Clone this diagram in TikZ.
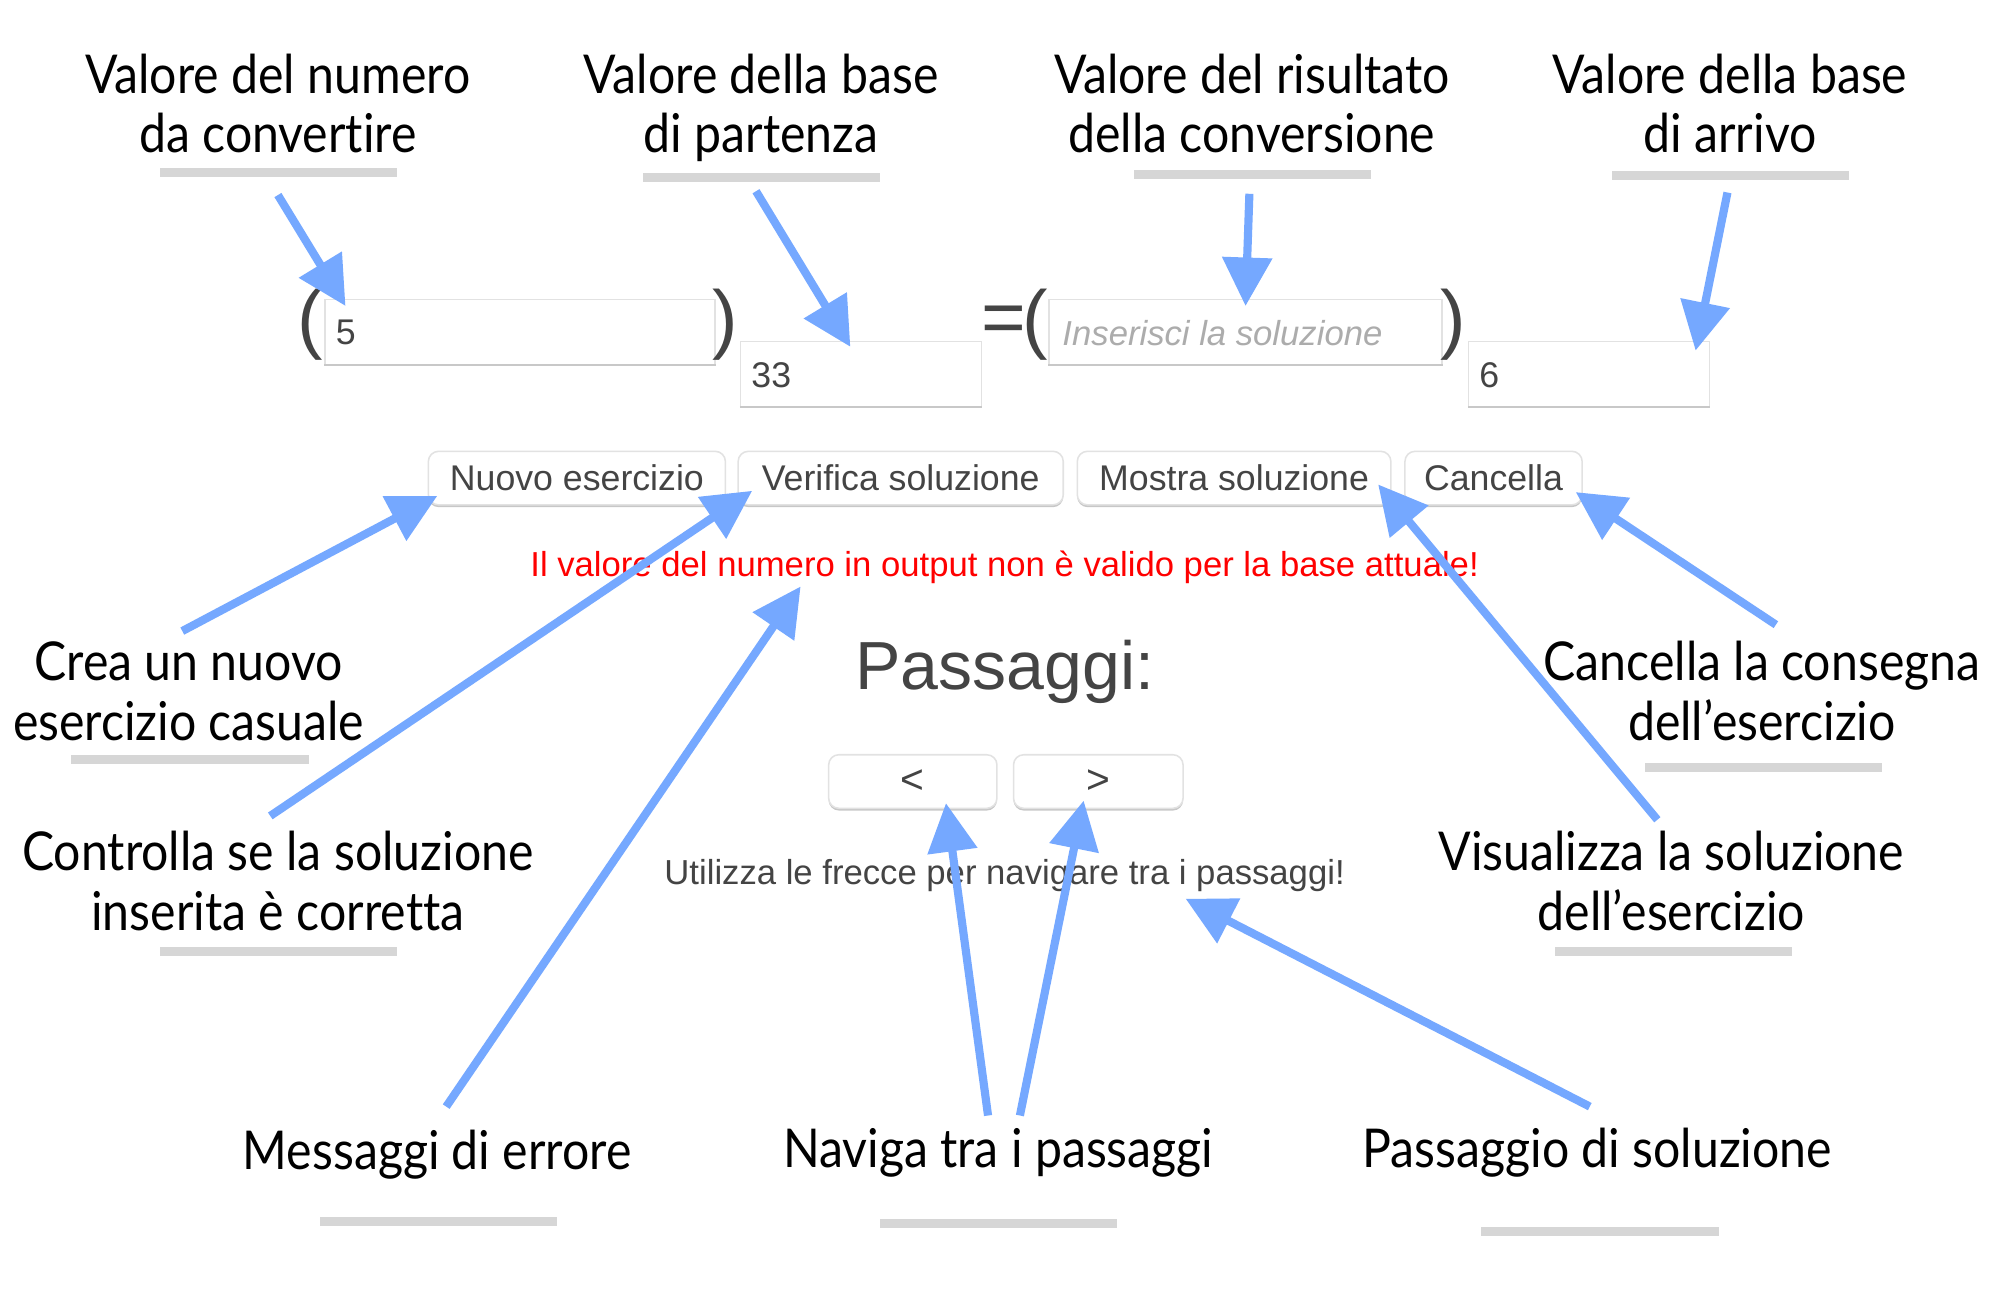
\documentclass[tikz,border=0pt]{standalone}
\usepackage{fontspec}
\setmainfont{Liberation Sans}
\newfontfamily\labfont[FakeStretch=0.9, Ligatures=NoCommon]{Lato}
\usetikzlibrary{arrows.meta,shadows}
\definecolor{arrowblue}{RGB}{117,168,255}
\definecolor{barGray}{RGB}{214,214,214}
\definecolor{uitext}{RGB}{68,68,68}
\definecolor{errred}{RGB}{255,0,0}
\definecolor{phgray}{RGB}{172,172,172}
\definecolor{boxline}{RGB}{226,226,226}
\definecolor{boxbottom}{RGB}{200,200,200}
\tikzset{
  lab/.style={font=\labfont\fontsize{21}{23.5}\selectfont, align=center, text=black, inner sep=0, anchor=base},
  ulbar/.style={fill=barGray, minimum width=93pt, minimum height=3.5pt, inner sep=0},
  inbox/.style={draw=boxline, line width=0.6pt, fill=white, inner sep=0, minimum height=25.5pt},
  intext/.style={font=\fontsize{14}{16}\selectfont, text=uitext, inner sep=0, anchor=west},
  btn/.style={draw=boxline, line width=0.6pt, fill=white, rounded corners=4pt, inner sep=0,
    minimum height=21pt, font=\fontsize{14}{16}\selectfont, text=uitext,
    drop shadow={shadow xshift=0pt, shadow yshift=-0.9pt, opacity=0.22, fill=black}},
  paren/.style={font=\fontsize{30}{30}\selectfont, text=uitext, inner sep=0},
  uitxt/.style={font=\fontsize{13.6}{16}\selectfont, inner sep=0, anchor=base},
  arr/.style={draw=arrowblue, line width=3.2pt, -{Triangle[length=19pt,width=19pt]}, arrowblue},
}
\begin{document}
\begin{tikzpicture}[x=0.5pt,y=-0.5pt]
\useasboundingbox (0,0) rectangle (1568,1012);
\fill[white] (0,0) rectangle (1568,1012);

% ---------- input row ----------
\node[paren] (lp1) at (243,255) {(};
\node[inbox, minimum width=153pt] (in1) at (408,260.5) {};
\draw[boxbottom, line width=0.8pt] (in1.south west) -- (in1.south east);
\node[intext] (v1) at (263,261) {5};
\node[paren] (rp1) at (569,255) {)};
\node[inbox, minimum width=94.5pt] (in2) at (675.5,293.5) {};
\draw[boxbottom, line width=0.8pt] (in2.south west) -- (in2.south east);
\node[intext] (v2) at (589,294) {33};
\node[paren] (eq) at (787,255) {=};
\node[paren] (lp2) at (812,255) {(};
\node[inbox, minimum width=154pt] (in3) at (977,260.5) {};
\draw[boxbottom, line width=0.8pt] (in3.south west) -- (in3.south east);
\node[intext, font=\itshape\fontsize{13.6}{16}\selectfont, text=phgray] (v3) at (833,261) {Inserisci la soluzione};
\node[paren] (rp2) at (1140,255) {)};
\node[inbox, minimum width=94.5pt] (in4) at (1246.5,293.5) {};
\draw[boxbottom, line width=0.8pt] (in4.south west) -- (in4.south east);
\node[intext] (v4) at (1160,294) {6};

% ---------- buttons ----------
\node[btn, minimum width=116.5pt] (b1) at (452.5,375) {Nuovo esercizio};
\node[btn, minimum width=127.5pt] (b2) at (706.5,375) {Verifica soluzione};
\node[btn, minimum width=123pt] (b3) at (968,375) {Mostra soluzione};
\node[btn, minimum width=69.5pt] (b4) at (1171.5,375) {Cancella};

\node[uitxt, text=errred] (err) at (788,452) {Il valore del numero in output non è valido per la base attuale!};
\node[font=\fontsize{26.7}{30}\selectfont, text=uitext, inner sep=0, anchor=base] (pas) at (788,541) {Passaggi:};

\node[btn, minimum width=66pt, font=\fontsize{16}{18}\selectfont] (prev) at (716,613) {<};
\node[btn, minimum width=66.5pt, font=\fontsize{16}{18}\selectfont] (next) at (861.5,613) {>};

\node[uitxt, text=uitext] (hint) at (788,694) {Utilizza le frecce per navigare tra i passaggi!};

% ---------- annotation labels ----------
\node[lab] (L1) at (218,120) {Valore del numero\\da convertire};
\node[ulbar] (U1) at (218.5,135) {};
\node[lab] (L2) at (597,120) {Valore della base\\di partenza};
\node[ulbar] (U2) at (597.5,139) {};
\node[lab] (L3) at (982,120) {Valore del risultato\\della conversione};
\node[ulbar] (U3) at (982.5,137) {};
\node[lab] (L4) at (1357,120) {Valore della base\\di arrivo};
\node[ulbar] (U4) at (1357.5,138) {};

\node[lab] (L5) at (148,581) {Crea un nuovo\\esercizio casuale};
\node[ulbar] (U5) at (149,596) {};
\node[lab] (L6) at (218,730) {Controlla se la soluzione\\inserita è corretta};
\node[ulbar] (U6) at (218.5,746) {};
\node[lab] (L7) at (343,917) {Messaggi di errore};
\node[ulbar] (U7) at (344,958) {};
\node[lab] (L8) at (783,916) {Naviga tra i passaggi};
\node[ulbar] (U8) at (783,960) {};
\node[lab] (L9) at (1253,916) {Passaggio di soluzione};
\node[ulbar] (U9) at (1255,966) {};
\node[lab] (L10) at (1382,581) {Cancella la consegna\\dell’esercizio};
\node[ulbar] (U10) at (1383,602) {};
\node[lab] (L11) at (1311,730) {Visualizza la soluzione\\dell’esercizio};
\node[ulbar] (U11) at (1312.5,746) {};

% ---------- arrows ----------
\coordinate (s1) at (218,153);  \coordinate (t1) at (271,240);
\coordinate (s2) at (593,150);  \coordinate (t2) at (667,272);
\coordinate (s3) at (980,152);  \coordinate (t3) at (977,240);
\coordinate (s4) at (1355,151); \coordinate (t4) at (1330,275);
\coordinate (s5) at (143,495);  \coordinate (t5) at (343,389);
\coordinate (s6) at (212,640);  \coordinate (t6) at (590,385);
\coordinate (s7) at (350,868);  \coordinate (t7) at (628,460);
\coordinate (s8) at (775,875);  \coordinate (t8) at (742,630);
\coordinate (s9) at (800,875);  \coordinate (t9) at (850,628);
\coordinate (s10) at (1247,868); \coordinate (t10) at (930,705);
\coordinate (s11) at (1300,643); \coordinate (t11) at (1081,380);
\coordinate (s12) at (1393,490); \coordinate (t12) at (1236,386);
\foreach \i in {1,...,12} { \draw[arr] (s\i) -- (t\i); }
\end{tikzpicture}
\end{document}
